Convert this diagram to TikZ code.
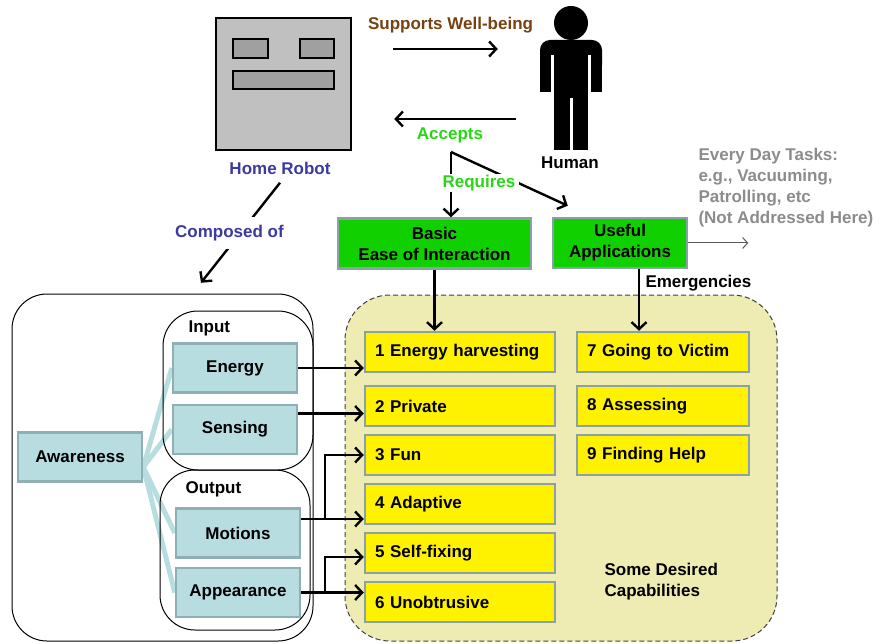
\documentclass[tikz,border=0pt]{standalone}
\usepackage{fontspec}
\setmainfont{Liberation Sans}
\usepackage{tikz}
\usetikzlibrary{arrows.meta}
\usetikzlibrary{positioning}
\usetikzlibrary{backgrounds}
\definecolor{azulrobot}{RGB}{58,58,160}
\definecolor{cafe}{RGB}{120,66,16}
\definecolor{verdetexto}{RGB}{40,215,20}
\definecolor{verdecaja}{RGB}{16,208,0}
\definecolor{bordegris}{RGB}{140,160,170}
\definecolor{celeste}{RGB}{184,221,224}
\definecolor{bordeceleste}{RGB}{143,175,180}
\definecolor{crema}{RGB}{238,236,178}
\definecolor{grisrobot}{RGB}{192,192,192}
\definecolor{grisojo}{RGB}{160,160,160}
\definecolor{gristexto}{RGB}{140,140,140}
\tikzset{
  flecha/.style={
    line width=2.4pt,
    -{Straight Barb[length=7pt,width=15pt]}
  }
}

\begin{document}
\begin{tikzpicture}[x=1pt, y=-1pt, font=\fontsize{17}{21}\selectfont\bfseries] % Estilos de nodos
\tikzstyle{parte} = [rectangle, draw=bordeceleste, line width=2.5pt, fill=celeste, minimum width=124pt, minimum height=49pt]
\tikzstyle{capacidad} = [rectangle, draw=bordegris, line width=2.5pt, fill=yellow, text width=170pt, inner xsep=10pt, minimum height=40pt, align=left]
\tikzstyle{requisito} = [rectangle, draw=bordegris, line width=2.5pt, fill=verdecaja, align=center, minimum height=50pt]
\tikzstyle{enlace} = [line width=5pt, celeste]
\useasboundingbox (0,0) rectangle (880,644);
\begin{scope}[on background layer] \fill[white] (0,0) rectangle (880,644); \end{scope}
% Robot y humano
\node (robot) [rectangle, draw, line width=2.5pt, fill=grisrobot, minimum width=135pt, minimum height=132pt] at (283.5,84) {};
\draw[line width=2pt, fill=grisojo] (233,39) rectangle (268,58); \draw[line width=2pt, fill=grisojo] (300,39) rectangle (334,58); \draw[line width=2pt, fill=grisojo] (233,71) rectangle (334,89);
\node (robotlabel) [text=azulrobot] at (280,168) {Home Robot};
\node (human) [minimum width=62pt, minimum height=132pt, inner sep=0pt] at (571,84) {};
\fill (571,23) circle (17pt); \fill[rounded corners=10pt] (540,40) rectangle (602,75); \fill (540,55) rectangle (602,92); \fill (554,90) rectangle (588,150);
\fill[white] (551,55) rectangle (554,93); \fill[white] (588,55) rectangle (591,93); \fill[white] (570,98) rectangle (573,151);
\node (humanlabel) at (570,163) {Human};
% Flechas entre robot y humano
\draw[flecha] ([shift={(41pt,35pt)}]robot.east) -- ([shift={(-42pt,35pt)}]human.west) node[midway, above=11pt, xshift=5pt, text=cafe] {Supports Well-being};
\draw[flecha] ([shift={(-24pt,-35pt)}]human.west) -- ([shift={(42pt,-35pt)}]robot.east) node[midway, below=4pt, xshift=-5pt, text=verdetexto] {Accepts};
% Nodos de requisitos
\node (basic) [requisito, minimum width=193pt] at (434.5,243.5) {Basic\\Ease of Interaction};
\node (useful) [requisito, minimum width=134pt] at (620,243) {Useful\\Applications};
\coordinate (bifurca) at (451,152);
\draw[flecha] (bifurca) -- (bifurca |- basic.north);
\draw[flecha] (bifurca) -- ([shift={(16pt,11pt)}]useful.north west);
\node (requires) [fill=white, inner ysep=1pt, text=verdetexto] at (479,183) {Requires};
\draw[line width=1pt, black!65, -{Straight Barb[length=5pt,width=11pt]}] (useful.east) -- ++(60,0);
\node (tasks) [anchor=north west, align=left, text=gristexto] at (695,145) {Every Day Tasks:\\e.g., Vacuuming,\\Patrolling, etc\\(Not Addressed Here)};
% Capacidades deseadas
\draw[dash pattern=on 5pt off 3pt, line width=1pt, draw=black!75, fill=crema, rounded corners=45pt] (345,295) rectangle (777,641);
\foreach \n/\y/\t in {1/352/{1 Energy harvesting}, 2/406/{2 Private}, 3/455/{3 Fun}, 4/504/{4 Adaptive}, 5/553/{5 Self-fixing}, 6/602/{6 Unobtrusive}}{ \node (cap\n) [capacidad] at (460,\y) {\t}; }
\foreach \n/\y/\t in {7/352/{7 Going to Victim}, 8/406/{8 Assessing}, 9/455/{9 Finding Help}}{ \node (cap\n) [capacidad, text width=152pt] at (663,\y) {\t}; }
\node (desired) [anchor=north west, align=left] at (601,560) {Some Desired\\Capabilities};
\draw[flecha] (basic.south) -- (basic.south |- cap1.north);
\draw[flecha] ([xshift=19pt]useful.south) -- ([xshift=19pt]useful.south |- cap7.north) node[pos=0.22, right=2pt] {Emergencies};
% Composicion del robot
\draw[flecha] ([yshift=-5pt]robotlabel.south) -- ++(-79,100) node[pos=0.5, fill=white, inner ysep=8pt, xshift=-11pt, text=azulrobot] {Composed of};
\draw[line width=1pt, rounded corners=35pt] (12,294) rectangle (313,641);
\draw[line width=1pt, rounded corners=35pt] (163,311) rectangle (313,470);
\draw[line width=1pt, rounded corners=35pt] (160,470) rectangle (310,630);
\node (input) [anchor=west] at (185,328) {Input};
\node (output) [anchor=west] at (182,489) {Output};
\node (awareness) [parte] at (80,457) {Awareness};
\node (energy) [parte] at (235,368) {Energy};
\node (sensing) [parte, below=10pt of energy] {Sensing};
\node (motions) [parte] at (238,533) {Motions};
\node (appearance) [parte, below=8pt of motions] {Appearance};
\begin{scope}[on background layer]
\foreach \p in {energy,sensing,motions,appearance}{ \draw[enlace] ([yshift=-10pt]awareness.east) -- (\p.west); }
\end{scope}
% Flechas hacia las capacidades
\draw[flecha] (energy.east) -- (energy.east -| cap1.west);
\draw[flecha] ([yshift=16pt]sensing.east) -- ([yshift=16pt]sensing.east -| cap2.west);
\draw[flecha] ([yshift=14pt]motions.east) -- ([yshift=14pt]motions.east -| cap4.west);
\draw[flecha] ([yshift=14pt]motions.east) -- ++(24,0) |- (cap3.west);
\draw[flecha] (appearance.east) -- (appearance.east -| cap6.west);
\draw[flecha] (appearance.east) -- ++(24,0) |- ([yshift=-4pt]cap5.west);
\end{tikzpicture}
\end{document}
